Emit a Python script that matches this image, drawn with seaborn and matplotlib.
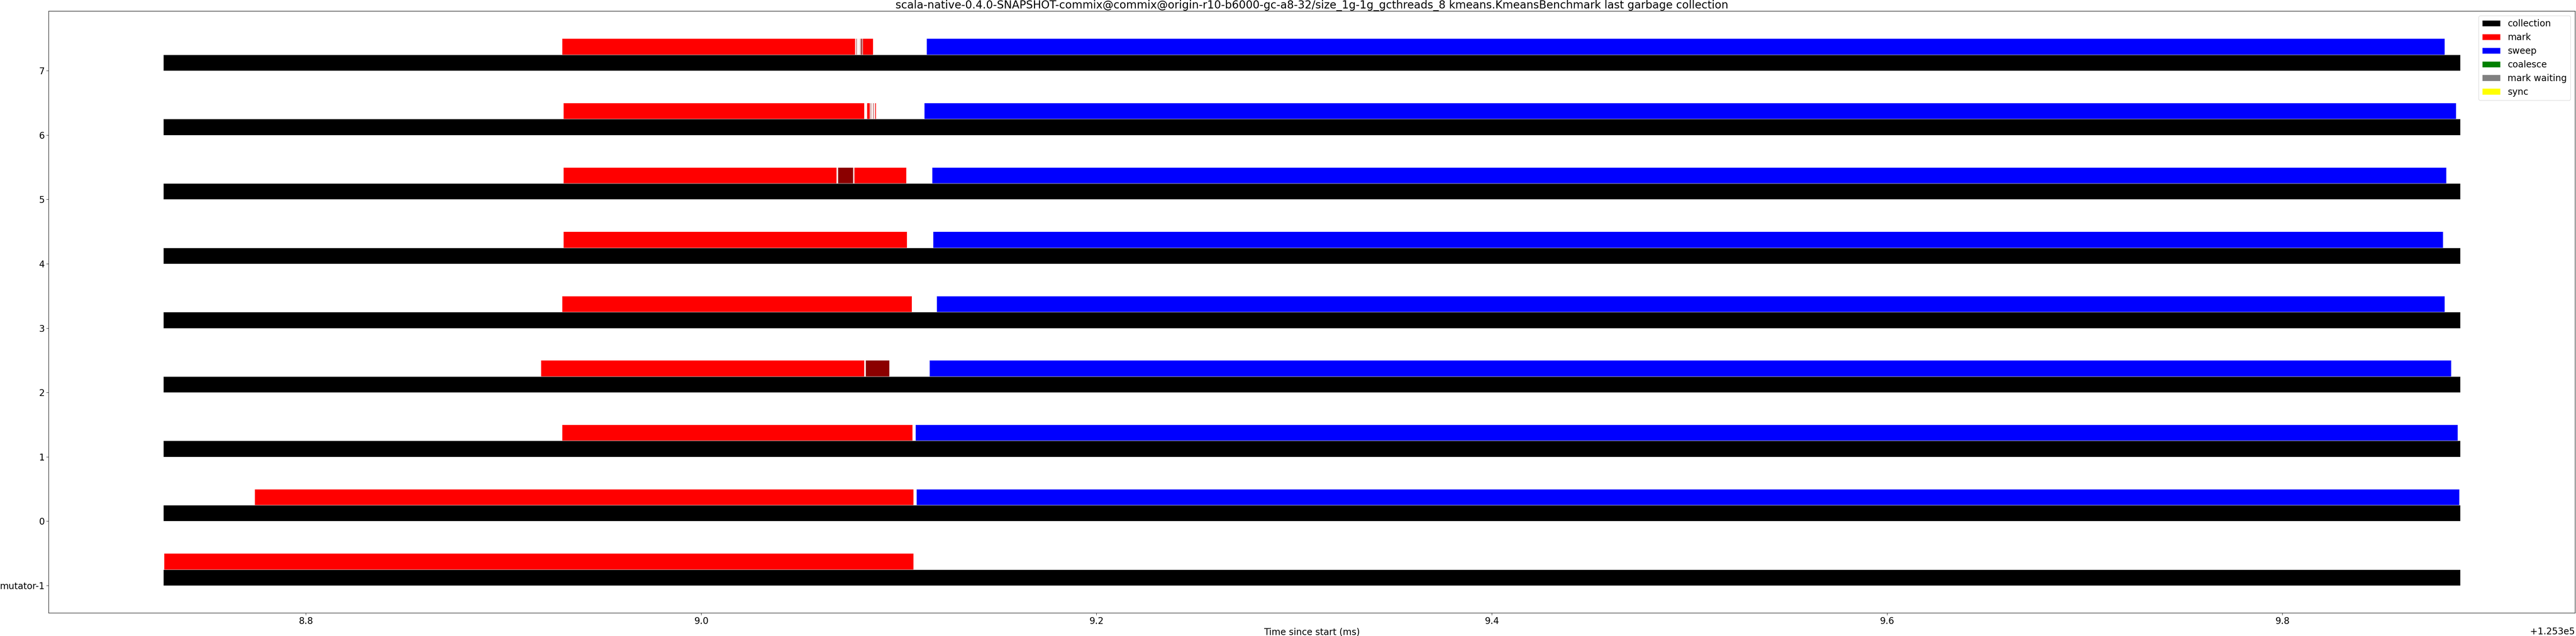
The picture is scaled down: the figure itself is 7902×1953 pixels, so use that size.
import matplotlib
matplotlib.use("Agg")
import matplotlib.pyplot as plt
from matplotlib.patches import Patch
import seaborn as sns

# ---------------- data (times in ms since start) ----------------
rows = ["mutator-1", "0", "1", "2", "3", "4", "5", "6", "7"]
row_pos = [-1, 0, 1, 2, 3, 4, 5, 6, 7]

collection_start = [125308.7279] * 9
collection_end = [125309.8900] * 9

# mark segments per row (start, end)
mark_segments = [
    [(125308.7281, 125309.1074)],                                   # mutator-1
    [(125308.7741, 125309.1074)],                                   # 0
    [(125308.9296, 125309.1069)],                                   # 1
    [(125308.9188, 125309.0824)],                                   # 2
    [(125308.9296, 125309.1066)],                                   # 3
    [(125308.9303, 125309.1041)],                                   # 4
    [(125308.9303, 125309.0685), (125309.0773, 125309.1038)],       # 5
    [(125308.9303, 125309.0824), (125309.0838, 125309.0853),
     (125309.0866, 125309.0868), (125309.0880, 125309.0885)],       # 6
    [(125308.9296, 125309.0779), (125309.0799, 125309.0800),
     (125309.0817, 125309.0870)],                                   # 7
]
# dark red sub-phases inside mark
darkmark_segments = [
    [], [], [],
    [(125309.0832, 125309.0951)],                                   # 2
    [], [],
    [(125309.0692, 125309.0768)],                                   # 5
    [(125309.0856, 125309.0860), (125309.0862, 125309.0864),
     (125309.0870, 125309.0873), (125309.0876, 125309.0878)],       # 6
    [(125309.0784, 125309.0787), (125309.0792, 125309.0793),
     (125309.0803, 125309.0807), (125309.0809, 125309.0815)],       # 7
]

sweep_start = [None, 125309.1089, 125309.1083, 125309.1155, 125309.1191,
               125309.1173, 125309.1168, 125309.1129, 125309.1140]
sweep_end = [None, 125309.8895, 125309.8887, 125309.8854, 125309.8821,
             125309.8813, 125309.8829, 125309.8879, 125309.8821]

legend_labels = ["collection", "mark", "sweep", "coalesce", "mark waiting", "sync"]
legend_colors = ["black", "red", "blue", "green", "grey", "yellow"]

title = ("scala-native-0.4.0-SNAPSHOT-commix@commix@origin-r10-b6000-gc-a8-32/"
         "size_1g-1g_gcthreads_8 kmeans.KmeansBenchmark last garbage collection")

# ---------------- plot ----------------
sns.set_style("ticks")
plt.rcParams["font.family"] = ["DejaVu Sans"]
plt.rcParams["axes.edgecolor"] = "black"
plt.rcParams["text.color"] = "black"
plt.rcParams["xtick.color"] = "black"
plt.rcParams["ytick.color"] = "black"
plt.rcParams["axes.labelcolor"] = "black"

fig = plt.figure(figsize=(79.02, 19.53), dpi=100)
ax = fig.add_axes([0.01886, 0.03635, 0.99962 - 0.01886, 0.98244 - 0.03635])

h = 0.25
edge = dict(edgecolor="white", linewidth=0.6)
for i, y in enumerate(row_pos):
    ax.broken_barh([(collection_start[i], collection_end[i] - collection_start[i])],
                   (y, h), facecolors="black", **edge)
    segs = [(s, e - s) for s, e in mark_segments[i]]
    if segs:
        ax.broken_barh(segs, (y + h, h), facecolors="red", **edge)
    dsegs = [(s, e - s) for s, e in darkmark_segments[i]]
    if dsegs:
        ax.broken_barh(dsegs, (y + h, h), facecolors="darkred", **edge)
    if sweep_start[i] is not None:
        ax.broken_barh([(sweep_start[i], sweep_end[i] - sweep_start[i])],
                       (y + h, h), facecolors="blue", **edge)

ax.set_yticks(row_pos)
ax.set_yticklabels(rows)
ax.tick_params(axis="both", labelsize=20, length=5)
ax.set_xlabel("Time since start (ms)", fontsize=20, labelpad=4)
ax.set_title(title, fontsize=24, pad=4)
ax.xaxis.get_offset_text().set_fontsize(20)

handles = [Patch(facecolor=c, edgecolor="white", label=l)
           for l, c in zip(legend_labels, legend_colors)]
ax.legend(handles=handles, loc="upper right", fontsize=20)

for s in ax.spines.values():
    s.set_visible(True)
    s.set_linewidth(1.0)

fig.savefig("out.png", dpi=100)
